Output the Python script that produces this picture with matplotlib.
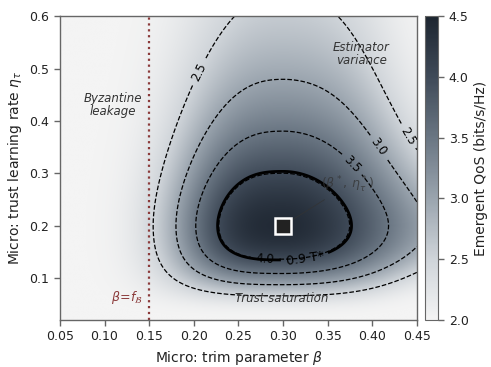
import numpy as np
import matplotlib
matplotlib.use("Agg")
import matplotlib.pyplot as plt
from matplotlib.colors import LinearSegmentedColormap

# ---- landscape parameters ----
beta_star = 0.30          # optimal trim parameter
eta_star = 0.20           # optimal trust learning rate
q_peak = 4.42             # T* (peak emergent QoS)
q_floor = 2.0             # background QoS
s_left = 0.125            # width toward small beta (Byzantine leakage side)
s_right = 0.171           # width toward large beta
s_eta_up = 0.93           # width (log eta) above optimum
s_eta_down = 0.88         # width (log eta) below optimum
tilt_up = 1.35            # estimator-variance narrowing at large beta, high eta
tilt_down = 0.80          # trust-saturation narrowing at large beta, low eta
tilt_left = 0.55          # narrowing at small beta, high eta
u_ref = 0.15
f_byz = 0.15              # Byzantine fraction f_B

contour_levels = [2.5, 3.0, 3.5, 4.0]
frac_T = 0.9
cbar_ticks = [2.0, 2.5, 3.0, 3.5, 4.0, 4.5]
x_ticks = [0.05, 0.10, 0.15, 0.20, 0.25, 0.30, 0.35, 0.40, 0.45]
y_ticks = [0.1, 0.2, 0.3, 0.4, 0.5, 0.6]

cmap_colors = ["#f4f4f4", "#cfd4d9", "#9aa4ae", "#6a7683", "#3f4a58", "#1d2530"]

# ---- field ----
b = np.linspace(0.05, 0.45, 500)
e = np.linspace(0.02, 0.60, 500)
B, E = np.meshgrid(b, e)
u = B - beta_star
w = np.log(E / eta_star)
fu = np.where(u < 0, (np.abs(u) / s_left) ** 3, (u / s_right) ** 2)
up = w > 0
s_w = np.where(up, s_eta_up, s_eta_down)
tilt = np.where(up, tilt_up, tilt_down)
k = 1 + tilt * (np.clip(u, 0, None) / u_ref) ** 4
k = k + np.where(up, tilt_left * (np.clip(-u, 0, None) / u_ref) ** 2, 0.0)
fw = (w / s_w) ** 2 * k
Q = q_floor + (q_peak - q_floor) * np.exp(-(fu + fw))

# ---- figure ----
fig = plt.figure(figsize=(4.91, 3.67), dpi=100)
ax = fig.add_axes([0.122, 0.128, 0.727, 0.828])
cax = fig.add_axes([0.866, 0.128, 0.0265, 0.828])

cmap = LinearSegmentedColormap.from_list("qos", cmap_colors)
im = ax.imshow(Q, extent=[b[0], b[-1], e[0], e[-1]], origin="lower",
               aspect="auto", cmap=cmap, vmin=2.0, vmax=4.5,
               interpolation="bilinear")

cs = ax.contour(B, E, Q, levels=contour_levels, colors="k",
                linestyles="--", linewidths=0.9)
ax.clabel(cs, fmt="%.1f", fontsize=8.5, inline=True,
          manual=[(0.212, 0.487), (0.442, 0.373), (0.405, 0.348),
                  (0.373, 0.31), (0.28, 0.137)])

cs2 = ax.contour(B, E, Q, levels=[frac_T * q_peak], colors="k",
                 linestyles="-", linewidths=2.0)
ax.clabel(cs2, fmt={frac_T * q_peak: "0.9 T*"}, fontsize=9, inline=True,
          manual=[(0.325, 0.13)])

ax.axvline(f_byz, color="#8b3a3a", ls=":", lw=1.6)
ax.text(0.143, 0.063, r"$\beta\!=\!f_{\mathcal{B}}$", color="#8b3a3a",
        fontsize=9, ha="right", va="center")

ax.plot([beta_star], [eta_star], "s", ms=11, mfc="#222222", mec="white", mew=1.8,
        zorder=5)
ax.annotate(r"$(\beta^*,\,\eta_\tau^*)$", xy=(beta_star, eta_star),
            xytext=(0.372, 0.277), ha="center", va="center", fontsize=9,
            color="#333333", alpha=0.75,
            arrowprops=dict(arrowstyle="-", color="#333333", lw=0.6, alpha=0.8))

ax.text(0.109, 0.43, "Byzantine\nleakage", style="italic", fontsize=8.5,
        color="#333333", ha="center", va="center", linespacing=1.0)
ax.text(0.388, 0.527, "Estimator\nvariance", style="italic", fontsize=8.5,
        color="#333333", ha="center", va="center", linespacing=1.0)
ax.text(0.299, 0.061, "Trust saturation", style="italic", fontsize=8.5,
        color="#333333", ha="center", va="center")

ax.set_xlim(0.05, 0.45)
ax.set_ylim(0.02, 0.60)
ax.set_xticks(x_ticks)
ax.set_xticklabels([f"{t:.2f}" for t in x_ticks])
ax.set_yticks(y_ticks)
ax.set_yticklabels([f"{t:.1f}" for t in y_ticks])
ax.set_xlabel(r"Micro: trim parameter $\beta$", fontsize=10, color="#222222")
ax.set_ylabel(r"Micro: trust learning rate $\eta_\tau$", fontsize=10, color="#222222")

for a in (ax, cax):
    for sp in a.spines.values():
        sp.set_color("#666666")
        sp.set_linewidth(1.0)
    a.tick_params(colors="#666666", labelcolor="#222222", labelsize=9,
                  length=4, width=1.0)

cb = fig.colorbar(im, cax=cax, ticks=cbar_ticks)
cb.set_ticklabels([f"{t:.1f}" for t in cbar_ticks])
cb.set_label("Emergent QoS (bits/s/Hz)", fontsize=10, color="#222222")
cb.outline.set_edgecolor("#666666")

fig.savefig("out.png", dpi=100)
